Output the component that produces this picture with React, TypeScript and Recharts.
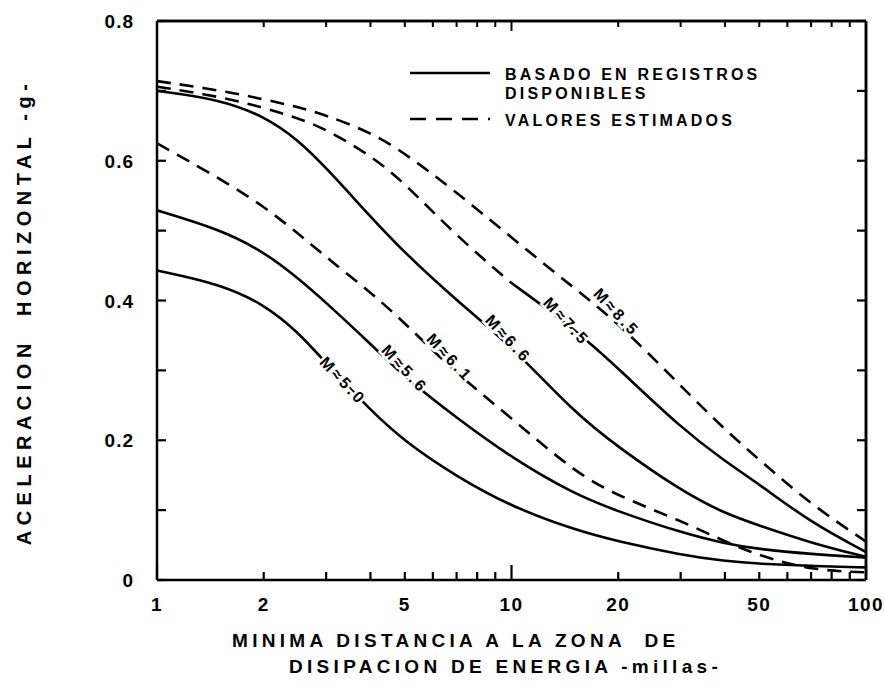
import React from 'react';
import { LineChart, Line, XAxis, YAxis, Legend, ReferenceDot, ReferenceLine } from 'recharts';

// ---- data ----
const distances = [1, 1.5, 2, 2.5, 3, 4, 5, 7, 10, 15, 20, 30, 40, 50, 70, 100];
const accelM50 = [0.443, 0.424, 0.395, 0.355, 0.310, 0.243, 0.198, 0.148, 0.105, 0.072, 0.055, 0.036, 0.027, 0.023, 0.020, 0.018];
const accelM56 = [0.529, 0.502, 0.470, 0.432, 0.397, 0.338, 0.290, 0.232, 0.175, 0.123, 0.098, 0.068, 0.052, 0.044, 0.037, 0.032];
const accelM61 = [0.625, 0.575, 0.535, 0.496, 0.462, 0.412, 0.368, 0.295, 0.232, 0.155, 0.120, 0.085, 0.055, 0.035, 0.014, 0.011];
const accelM66 = [0.700, 0.688, 0.664, 0.630, 0.590, 0.520, 0.468, 0.400, 0.335, 0.240, 0.190, 0.128, 0.095, 0.078, 0.053, 0.033];
const accelM75Est = [0.706, 0.692, 0.676, 0.661, 0.645, 0.608, 0.568, 0.492, 0.425, null, null, null, null, null, null, null];
const accelM75 = [null, null, null, null, null, null, null, null, 0.425, 0.360, 0.303, 0.218, 0.170, 0.137, 0.082, 0.040];
const accelM85 = [0.714, 0.701, 0.688, 0.677, 0.665, 0.641, 0.611, 0.555, 0.490, 0.418, 0.368, 0.278, 0.215, 0.172, 0.108, 0.055];

const xTicks = [1, 2, 3, 4, 5, 6, 7, 8, 9, 10, 20, 30, 40, 50, 60, 70, 80, 90, 100];
const xTickLabels = [1, 2, 5, 10, 20, 50, 100];
const yTicks = [0, 0.1, 0.2, 0.3, 0.4, 0.5, 0.6, 0.7, 0.8];
const yTickLabels = [0, 0.2, 0.4, 0.6, 0.8];

const curveLabels = [
  { text: 'M≈5.0', x: 3.35, y: 0.285 },
  { text: 'M≈5.6', x: 5.0, y: 0.302 },
  { text: 'M≈6.1', x: 6.7, y: 0.318 },
  { text: 'M≈6.6', x: 9.8, y: 0.345 },
  { text: 'M≈7.5', x: 14.3, y: 0.37 },
  { text: 'M≈8.5', x: 19.8, y: 0.383 },
];

const data = distances.map((d, i) => ({
  d,
  m50: accelM50[i],
  m56: accelM56[i],
  m61: accelM61[i],
  m66: accelM66[i],
  m75e: accelM75Est[i],
  m75: accelM75[i],
  m85: accelM85[i],
}));

const FONT = "'Liberation Sans', Arial, sans-serif";
const INK = '#000';

const BottomTick = (props: any) => {
  const { x, y, payload } = props;
  const v = payload.value;
  const major = v === 1 || v === 10 || v === 100;
  const len = major ? 15 : 8;
  return (
    <g>
      <line x1={x} y1={y} x2={x} y2={y - len} stroke={INK} strokeWidth={2.2} />
      {xTickLabels.includes(v) && (
        <text x={x} y={y + 31} textAnchor="middle" fontFamily={FONT} fontWeight="bold" fontSize={19} letterSpacing={1.5} fill={INK}>
          {v}
        </text>
      )}
    </g>
  );
};

const TopTick = (props: any) => {
  const { x, y, payload } = props;
  const v = payload.value;
  const major = v === 1 || v === 10 || v === 100;
  const len = major ? 10 : 6;
  return <line x1={x} y1={y} x2={x} y2={y + len} stroke={INK} strokeWidth={2} />;
};

const LeftTick = (props: any) => {
  const { x, y, payload } = props;
  const v = payload.value;
  return (
    <g>
      <line x1={x} y1={y} x2={x + 9} y2={y} stroke={INK} strokeWidth={2.2} />
      {yTickLabels.some((t) => Math.abs(t - v) < 1e-9) && (
        <text x={x - 23} y={y + 7} textAnchor="end" fontFamily={FONT} fontWeight="bold" fontSize={19} letterSpacing={1} fill={INK}>
          {v === 0 ? '0' : v.toFixed(1)}
        </text>
      )}
    </g>
  );
};

const RightTick = (props: any) => {
  const { x, y } = props;
  return <line x1={x} y1={y} x2={x - 9} y2={y} stroke={INK} strokeWidth={2.2} />;
};

const XTitle = (props: any) => {
  const vb = props.viewBox || { x: 157, y: 580 };
  const st: any = { whiteSpace: 'pre' };
  return (
    <g fontFamily={FONT} fontWeight="bold" fontSize={19} fill={INK} letterSpacing={4.3}>
      <text x={vb.x + 75} y={vb.y + 67} style={st}>MINIMA DISTANCIA A LA ZONA  DE</text>
      <text x={vb.x + 132} y={vb.y + 93} style={st}>DISIPACION DE ENERGIA -millas-</text>
    </g>
  );
};

const YTitle = (props: any) => {
  const vb = props.viewBox || { x: 0, y: 21, height: 559 };
  const cx = 31;
  const cy = vb.y + 291;
  return (
    <text
      x={cx}
      y={cy}
      transform={`rotate(-90 ${cx} ${cy})`}
      textAnchor="middle"
      fontFamily={FONT}
      fontWeight="bold"
      fontSize={20}
      letterSpacing={5.5}
      fill={INK}
      style={{ whiteSpace: 'pre' } as any}
    >
      ACELERACION  HORIZONTAL -g-
    </text>
  );
};

const renderLegend = () => {
  const ts: any = { fontFamily: FONT, fontWeight: 'bold', fontSize: 16, letterSpacing: 3.2, fill: INK };
  return (
    <svg width={380} height={80} style={{ display: 'block', overflow: 'visible' }}>
      <line x1={0} y1={15} x2={80} y2={15} stroke={INK} strokeWidth={2.5} />
      <text x={95} y={22} {...ts}>BASADO EN REGISTROS</text>
      <text x={95} y={41} {...ts}>DISPONIBLES</text>
      <line x1={0} y1={61} x2={80} y2={61} stroke={INK} strokeWidth={2.5} strokeDasharray="16 10" />
      <text x={95} y={68} {...ts}>VALORES ESTIMADOS</text>
    </svg>
  );
};

const makeCurveLabel = (text: string) => (p: any) => {
  const { cx, cy } = p;
  if (cx == null || cy == null) return <g />;
  return (
    <text
      x={cx}
      y={cy}
      transform={`rotate(47 ${cx} ${cy})`}
      textAnchor="middle"
      dominantBaseline="central"
      fontFamily={FONT}
      fontWeight="bold"
      fontSize={16}
      letterSpacing={3}
      fill={INK}
      stroke="#fff"
      strokeWidth={5}
      paintOrder="stroke"
    >
      {text}
    </text>
  );
};

const lineCommon = {
  type: 'basis' as const,
  stroke: INK,
  dot: false,
  activeDot: false,
  isAnimationActive: false,
  connectNulls: false,
};

export default function App() {
  return (
    <div style={{ position: 'absolute', left: 0, top: 0, background: '#fff' }}>
      <LineChart
        width={884}
        height={688}
        data={data}
        margin={{ top: 20, right: 17, bottom: 0, left: 0 }}
        style={{ fontFamily: FONT }}
      >
        <XAxis
          dataKey="d"
          type="number"
          scale="log"
          domain={[1, 100]}
          allowDataOverflow
          ticks={xTicks}
          interval={0}
          height={108}
          tickSize={0}
          tickMargin={0}
          tickLine={false}
          axisLine={{ stroke: INK, strokeWidth: 2.5 }}
          tick={<BottomTick />}
          label={{ content: <XTitle /> }}
        />
        <XAxis
          xAxisId="top"
          orientation="top"
          dataKey="d"
          type="number"
          scale="log"
          domain={[1, 100]}
          allowDataOverflow
          ticks={xTicks}
          interval={0}
          height={1}
          tickSize={0}
          tickMargin={0}
          tickLine={false}
          axisLine={{ stroke: INK, strokeWidth: 2.5 }}
          tick={<TopTick />}
        />
        <YAxis
          type="number"
          domain={[0, 0.8]}
          allowDataOverflow
          ticks={yTicks}
          interval={0}
          width={157}
          tickSize={0}
          tickMargin={0}
          tickLine={false}
          axisLine={{ stroke: INK, strokeWidth: 2.5 }}
          tick={<LeftTick />}
          label={{ content: <YTitle /> }}
        />
        <YAxis
          yAxisId="right"
          orientation="right"
          type="number"
          domain={[0, 0.8]}
          allowDataOverflow
          ticks={yTicks}
          interval={0}
          width={1}
          tickSize={0}
          tickMargin={0}
          tickLine={false}
          axisLine={{ stroke: INK, strokeWidth: 2.5 }}
          tick={<RightTick />}
        />
        <ReferenceLine y={0.8} stroke={INK} strokeWidth={2.5} />
        <ReferenceLine x={100} stroke={INK} strokeWidth={2.5} />
        <Legend
          layout="vertical"
          align="center"
          verticalAlign="middle"
          content={renderLegend}
          wrapperStyle={{ position: 'absolute', left: 410, top: 58, width: 380, height: 80 }}
        />
        <Line {...lineCommon} dataKey="m50" name="M≈5.0" strokeWidth={2.6} />
        <Line {...lineCommon} dataKey="m56" name="M≈5.6" strokeWidth={2.6} />
        <Line {...lineCommon} dataKey="m61" name="M≈6.1" strokeWidth={2.6} strokeDasharray="14 9" />
        <Line {...lineCommon} dataKey="m66" name="M≈6.6" strokeWidth={2.6} />
        <Line {...lineCommon} dataKey="m75e" name="M≈7.5 (estimado)" strokeWidth={2.6} strokeDasharray="14 9" />
        <Line {...lineCommon} dataKey="m75" name="M≈7.5" strokeWidth={2.6} />
        <Line {...lineCommon} dataKey="m85" name="M≈8.5" strokeWidth={2.6} strokeDasharray="14 9" />
        {curveLabels.map((c) => (
          <ReferenceDot key={c.text} x={c.x} y={c.y} r={0} shape={makeCurveLabel(c.text)} />
        ))}
      </LineChart>
    </div>
  );
}
